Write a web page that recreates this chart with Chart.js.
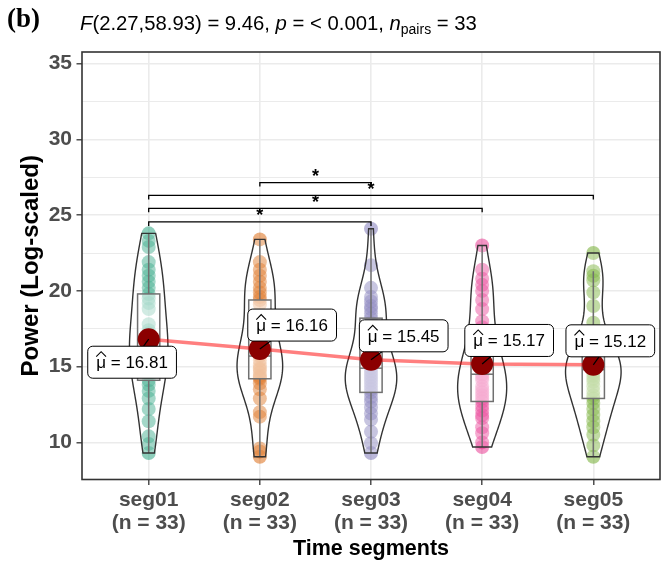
<!DOCTYPE html>
<html>
<head>
<meta charset="utf-8">
<script src="https://cdn.jsdelivr.net/npm/chart.js@4.4.1/dist/chart.umd.min.js"></script>
<style>
  html, body { margin: 0; padding: 0; background: #fff; }
  #wrap { width: 671px; height: 563px; }
</style>
</head>
<body>
<div id="wrap"><canvas id="chart" width="671" height="563"></canvas></div>
<script>
// ---- data ----
const segments = ['seg01', 'seg02', 'seg03', 'seg04', 'seg05'];

const seg01 = [23.8, 23.3, 22.9, 21.9, 21.4, 21.0, 20.6, 20.2, 19.8, 19.5, 19.2, 18.8, 17.8, 17.4, 17.0, 17.2, 16.9,
  16.6, 16.2, 15.9, 15.5, 15.1, 14.8, 14.5, 14.1, 13.8, 13.4, 12.9, 12.2, 11.4, 10.4, 9.9, 9.3];
const seg02 = [23.4, 21.9, 21.4, 21.0, 20.6, 20.2, 19.9, 19.6, 19.4, 19.1, 18.2, 17.5, 16.9, 16.6, 16.3, 16.0, 15.7,
  15.4, 15.1, 14.9, 14.8, 14.6, 14.4, 14.3, 14.2, 13.9, 13.5, 12.9, 12.0, 11.7, 9.4, 9.6, 9.05];
const seg03 = [24.1, 21.7, 20.2, 19.6, 19.3, 19.0, 18.8, 18.5, 18.2, 17.9, 16.8, 16.1, 15.7, 15.3, 15.3, 15.1, 14.9,
  14.7, 14.5, 14.3, 14.1, 13.9, 13.7, 13.5, 13.3, 13.0, 12.7, 12.3, 11.9, 11.5, 10.7, 9.95, 9.3];
const seg04 = [23.0, 21.4, 20.8, 20.4, 20.0, 19.4, 18.8, 18.0, 17.6, 16.9, 16.4, 16.0, 15.6, 15.2, 15.0, 14.8, 14.5,
  14.3, 14.1, 13.7, 13.5, 13.3, 13.1, 12.9, 12.7, 12.4, 12.1, 11.8, 11.6, 11.0, 10.6, 10.0, 9.7];
const seg05 = [22.5, 21.3, 21.0, 20.7, 19.9, 19.0, 17.9, 17.3, 16.7, 16.3, 15.9, 15.8, 15.6, 15.4, 15.2, 15.0, 14.8,
  14.6, 14.4, 14.2, 14.0, 13.7, 13.4, 13.1, 12.9, 12.6, 12.2, 11.8, 11.4, 11.0, 10.5, 9.8, 9.05];

const meanValues = [16.81, 16.16, 15.45, 15.17, 15.12];
const yTicks = [10, 15, 20, 25, 30, 35];

// pairwise comparisons (ggsignif style)
const compFrom = ['seg01', 'seg01', 'seg01', 'seg02'];
const compTo = ['seg03', 'seg04', 'seg05', 'seg03'];
const compY = [24.55, 25.45, 26.3, 27.15];
const compLabels = ['*', '*', '*', '*'];

const groups = [seg01, seg02, seg03, seg04, seg05];
const palette = ['#1B9E77', '#D95F02', '#7570B3', '#E7298A', '#66A61E'];

const FONT = '"Liberation Sans", Arial, Helvetica, sans-serif';

function rgba(hex, a) {
  const n = parseInt(hex.slice(1), 16);
  return `rgba(${(n >> 16) & 255},${(n >> 8) & 255},${n & 255},${a})`;
}

function quantile7(sorted, p) {
  const h = (sorted.length - 1) * p;
  const lo = Math.floor(h);
  const hi = Math.min(lo + 1, sorted.length - 1);
  return sorted[lo] + (h - lo) * (sorted[hi] - sorted[lo]);
}

function bwNrd0(vals) {
  const n = vals.length;
  const mean = vals.reduce((a, b) => a + b, 0) / n;
  const sd = Math.sqrt(vals.reduce((a, v) => a + (v - mean) * (v - mean), 0) / (n - 1));
  const s = [...vals].sort((a, b) => a - b);
  const iqr = quantile7(s, 0.75) - quantile7(s, 0.25);
  return 0.9 * Math.min(sd, iqr / 1.34) * Math.pow(n, -0.2);
}

function kde(vals, bw, y) {
  let s = 0;
  for (const v of vals) {
    const z = (y - v) / bw;
    s += Math.exp(-0.5 * z * z);
  }
  return s / (vals.length * bw * Math.sqrt(2 * Math.PI));
}

// violin profiles (trimmed to data range, scaled by area like ggplot)
const violinProfiles = groups.map(vals => {
  const bw = bwNrd0(vals);
  const lo = Math.min(...vals), hi = Math.max(...vals);
  const pts = [];
  for (let k = 0; k <= 120; k++) {
    const y = lo + (hi - lo) * k / 120;
    pts.push({ y, d: kde(vals, bw, y) });
  }
  return pts;
});
const maxDensity = Math.max(...violinProfiles.map(p => Math.max(...p.map(q => q.d))));

function boxStats(vals) {
  const s = [...vals].sort((a, b) => a - b);
  const q1 = quantile7(s, 0.25), med = quantile7(s, 0.5), q3 = quantile7(s, 0.75);
  const iqr = q3 - q1;
  const lowW = s.find(v => v >= q1 - 1.5 * iqr);
  const highW = [...s].reverse().find(v => v <= q3 + 1.5 * iqr);
  return { q1, med, q3, lowW, highW };
}

const violinPlugin = {
  id: 'violins',
  beforeDatasetDraw(chart, args) {
    if (args.index !== groups.length) return; // right before the mean path
    const { ctx, scales: { x, y } } = chart;
    const unit = x.getPixelForValue(2) - x.getPixelForValue(1);
    ctx.save();
    groups.forEach((vals, i) => {
      const cx = x.getPixelForValue(i + 1);
      // box
      const b = boxStats(vals);
      const bw = 0.1 * unit;
      ctx.strokeStyle = '#4D4D4D';
      ctx.lineWidth = 1.5;
      ctx.beginPath();
      ctx.moveTo(cx, y.getPixelForValue(b.q3));
      ctx.lineTo(cx, y.getPixelForValue(b.highW));
      ctx.moveTo(cx, y.getPixelForValue(b.q1));
      ctx.lineTo(cx, y.getPixelForValue(b.lowW));
      ctx.stroke();
      const top = y.getPixelForValue(b.q3), bot = y.getPixelForValue(b.q1);
      ctx.fillStyle = 'rgba(255,255,255,0.5)';
      ctx.fillRect(cx - bw, top, 2 * bw, bot - top);
      ctx.strokeRect(cx - bw, top, 2 * bw, bot - top);
      ctx.beginPath();
      ctx.moveTo(cx - bw, y.getPixelForValue(b.med));
      ctx.lineTo(cx + bw, y.getPixelForValue(b.med));
      ctx.stroke();

      // violin
      const prof = violinProfiles[i];
      ctx.beginPath();
      prof.forEach((p, k) => {
        const px = cx + (p.d / maxDensity) * 0.25 * unit;
        const py = y.getPixelForValue(p.y);
        if (k === 0) ctx.moveTo(px, py); else ctx.lineTo(px, py);
      });
      for (let k = prof.length - 1; k >= 0; k--) {
        const p = prof[k];
        ctx.lineTo(cx - (p.d / maxDensity) * 0.25 * unit, y.getPixelForValue(p.y));
      }
      ctx.closePath();
      ctx.fillStyle = 'rgba(255,255,255,0.2)';
      ctx.fill();
      ctx.strokeStyle = '#333333';
      ctx.lineWidth = 1.4;
      ctx.stroke();
    });
    ctx.restore();
  }
};

function drawMuLabel(ctx, cx, cy, value) {
  ctx.font = '17px ' + FONT;
  const rest = ' = ' + value.toFixed(2);
  const muW = ctx.measureText('\u03bc').width;
  const restW = ctx.measureText(rest).width;
  const padX = 8.5, h = 32;
  const w = muW + restW + 2 * padX;
  const x0 = cx - w / 2, y0 = cy - h / 2;
  ctx.beginPath();
  ctx.roundRect(x0, y0, w, h, 5);
  ctx.fillStyle = '#fff';
  ctx.fill();
  ctx.strokeStyle = '#000';
  ctx.lineWidth = 1;
  ctx.stroke();
  const base = cy + 6;
  ctx.fillStyle = '#000';
  ctx.textAlign = 'left';
  ctx.textBaseline = 'alphabetic';
  ctx.fillText('\u03bc', x0 + padX, base);
  ctx.fillText(rest, x0 + padX + muW, base);
  // wide hat
  ctx.beginPath();
  ctx.moveTo(x0 + padX, base - 11.5);
  ctx.lineTo(x0 + padX + muW / 2, base - 16.5);
  ctx.lineTo(x0 + padX + muW, base - 11.5);
  ctx.lineWidth = 1.1;
  ctx.stroke();
  return { x0, y0, w, h };
}

const overlayPlugin = {
  id: 'overlay',
  afterDatasetsDraw(chart, args, opts) {
    const { ctx, chartArea: a, scales: { x, y } } = chart;
    ctx.save();

    // significance brackets
    ctx.strokeStyle = '#000';
    ctx.fillStyle = '#000';
    ctx.lineWidth = 1.3;
    compFrom.forEach((f, k) => {
      const x1 = x.getPixelForValue(segments.indexOf(f) + 1);
      const x2 = x.getPixelForValue(segments.indexOf(compTo[k]) + 1);
      const py = y.getPixelForValue(compY[k]);
      ctx.beginPath();
      ctx.moveTo(x1, py + 4);
      ctx.lineTo(x1, py);
      ctx.lineTo(x2, py);
      ctx.lineTo(x2, py + 4);
      ctx.stroke();
      ctx.font = 'bold 18px ' + FONT;
      ctx.textAlign = 'center';
      ctx.textBaseline = 'alphabetic';
      ctx.fillText(compLabels[k], (x1 + x2) / 2, py - 0.5);
    });

    // mean labels with repel segments
    meanValues.forEach((m, i) => {
      const px = x.getPixelForValue(i + 1);
      const py = y.getPixelForValue(m);
      const [dx, dy] = opts.nudges[i];
      ctx.font = '17px ' + FONT;
      const lw = ctx.measureText('\u03bc = ' + m.toFixed(2)).width + 17;
      const lx = px + dx, ly = py + dy;
      // segment from point to label edge
      const hx = lw / 2, hy = 16;
      const tx = Math.abs(dx) > 0 ? hx / Math.abs(dx) : Infinity;
      const ty = Math.abs(dy) > 0 ? hy / Math.abs(dy) : Infinity;
      const t = 1 - Math.min(tx, ty);
      ctx.beginPath();
      ctx.moveTo(px, py);
      ctx.lineTo(px + dx * t, py + dy * t);
      ctx.strokeStyle = '#000';
      ctx.lineWidth = 1.2;
      ctx.stroke();
      drawMuLabel(ctx, lx, ly, m);
    });

    // panel border
    ctx.strokeStyle = '#333333';
    ctx.lineWidth = 1.6;
    ctx.strokeRect(a.left, a.top, a.right - a.left, a.bottom - a.top);
    ctx.restore();
  },
  afterDraw(chart) {
    const { ctx } = chart;
    ctx.save();
    ctx.fillStyle = '#000';
    ctx.textBaseline = 'alphabetic';
    ctx.textAlign = 'left';
    ctx.font = 'bold 27px "Liberation Serif", "Times New Roman", serif';
    ctx.fillText('(b)', 7, 27);

    const parts = [
      ['F', 'italic 20.3px ' + FONT, 0],
      ['(2.27,58.93) = 9.46, ', '20.3px ' + FONT, 0],
      ['p', 'italic 20.3px ' + FONT, 0],
      [' = < 0.001, ', '20.3px ' + FONT, 0],
      ['n', 'italic 20.3px ' + FONT, 0],
      ['pairs', '14px ' + FONT, 4],
      [' = 33', '20.3px ' + FONT, 0]
    ];
    let cx = 80;
    parts.forEach(([txt, font, shift]) => {
      ctx.font = font;
      ctx.fillText(txt, cx, 29.5 + shift);
      cx += ctx.measureText(txt).width;
    });
    ctx.restore();
  }
};

const bgPlugin = {
  id: 'bg',
  beforeDraw(chart) {
    const { ctx, width, height } = chart;
    ctx.save();
    ctx.fillStyle = '#fff';
    ctx.fillRect(0, 0, width, height);
    ctx.restore();
  }
};

const isMajor = v => yTicks.includes(v);

const datasets = groups.map((vals, i) => ({
  type: 'scatter',
  data: vals.map(v => ({ x: i + 1, y: v })),
  pointBackgroundColor: rgba(palette[i], 0.5),
  pointBorderWidth: 0,
  pointBorderColor: 'rgba(0,0,0,0)',
  pointRadius: 7,
  order: 3
}));
datasets.push({
  type: 'line',
  data: meanValues.map((m, i) => ({ x: i + 1, y: m })),
  borderColor: 'rgba(255,0,0,0.5)',
  borderWidth: 3.5,
  pointRadius: 0,
  fill: false,
  tension: 0,
  order: 2
});
datasets.push({
  type: 'scatter',
  data: meanValues.map((m, i) => ({ x: i + 1, y: m })),
  pointBackgroundColor: '#8B0000',
  pointBorderWidth: 0,
  pointBorderColor: 'rgba(0,0,0,0)',
  pointRadius: 11,
  order: 1
});

new Chart(document.getElementById('chart'), {
  type: 'scatter',
  data: { datasets },
  options: {
    responsive: false,
    devicePixelRatio: 1,
    animation: false,
    events: [],
    layout: { padding: { top: 52, left: 0, right: 1, bottom: 0 } },
    plugins: {
      legend: { display: false },
      tooltip: { enabled: false },
      overlay: { nudges: [[-16.6, 23], [32.3, -24], [32.7, -24], [27, -23.6], [17, -24]] }
    },
    scales: {
      x: {
        type: 'linear',
        min: 0.4,
        max: 5.6,
        afterBuildTicks: s => { s.ticks = segments.map((_, i) => ({ value: i + 1 })); },
        afterFit: s => { s.height = 83.5; },
        border: { display: false },
        grid: { color: '#EBEBEB', lineWidth: 1.6, tickColor: '#333333', tickWidth: 1.3, tickLength: 5.5 },
        ticks: {
          autoSkip: false,
          maxRotation: 0,
          padding: 3,
          color: '#4D4D4D',
          font: { family: FONT, size: 21, weight: 'bold', lineHeight: 1.12 },
          callback: v => {
            const i = Math.round(v) - 1;
            return [segments[i], `(n = ${groups[i].length})`];
          }
        },
        title: {
          display: true,
          text: 'Time segments',
          color: '#000',
          font: { family: FONT, size: 21.5, weight: 'bold', lineHeight: 1 },
          padding: { top: 0, bottom: 3.5 }
        }
      },
      y: {
        min: 7.55,
        max: 35.77,
        afterBuildTicks: s => {
          const t = [];
          yTicks.forEach((v, k) => {
            t.push({ value: v });
            if (k < yTicks.length - 1) t.push({ value: (v + yTicks[k + 1]) / 2 });
          });
          s.ticks = t;
        },
        afterFit: s => { s.width = 82; },
        border: { display: false },
        grid: {
          color: '#EBEBEB',
          lineWidth: c => (c.tick && isMajor(c.tick.value)) ? 1.6 : 1.0,
          tickColor: c => (c.tick && isMajor(c.tick.value)) ? '#333333' : 'rgba(0,0,0,0)',
          tickWidth: 1.3,
          tickLength: 5.5
        },
        ticks: {
          padding: 4.5,
          color: '#4D4D4D',
          font: { family: FONT, size: 21, weight: 'bold' },
          callback: v => isMajor(v) ? String(v) : ''
        },
        title: {
          display: true,
          text: 'Power (Log-scaled)',
          color: '#000',
          font: { family: FONT, size: 24, weight: 'bold', lineHeight: 1 },
          padding: { top: 19.5, bottom: 0 }
        }
      }
    }
  },
  plugins: [bgPlugin, violinPlugin, overlayPlugin]
});
</script>
</body>
</html>
